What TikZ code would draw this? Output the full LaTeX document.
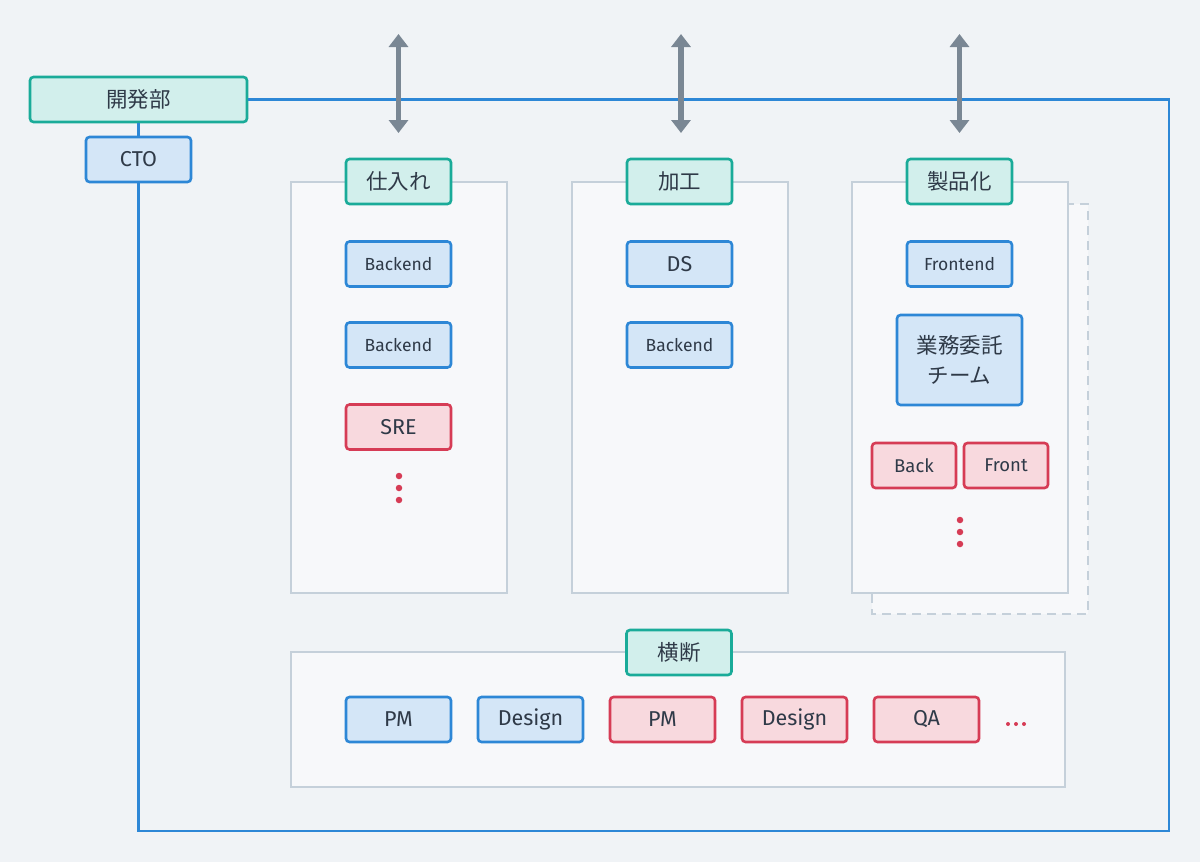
\documentclass[tikz,border=0pt]{standalone}
\usepackage{fontspec}
\setmainfont{Fira Sans}
\newfontfamily\jp{Noto Sans CJK JP}
\usetikzlibrary{arrows.meta}
\definecolor{bg}{HTML}{F0F3F6}
\definecolor{panelfill}{HTML}{F7F8FA}
\definecolor{panelline}{HTML}{C5D0DA}
\definecolor{tealfill}{HTML}{D2EFEC}
\definecolor{tealline}{HTML}{1AAB99}
\definecolor{bluefill}{HTML}{D4E6F7}
\definecolor{blueline}{HTML}{2D87D6}
\definecolor{redfill}{HTML}{F8D9DE}
\definecolor{redline}{HTML}{D63C55}
\definecolor{txt}{HTML}{2F3A48}
\definecolor{arrowgray}{HTML}{7A8794}
\tikzset{
  base/.style={rounded corners=3.5pt, line width=2.6pt, text=txt, inner sep=0pt, anchor=center},
  tealbox/.style={base, draw=tealline, fill=tealfill, font=\jp\fontsize{21.5}{26}\selectfont},
  bluebox/.style={base, draw=blueline, fill=bluefill},
  redbox/.style={base, draw=redline, fill=redfill},
  small/.style={minimum width=105pt, minimum height=45pt},
  panel/.style={draw=panelline, fill=panelfill, line width=2.6pt},
  link/.style={draw=blueline, line width=2.4pt},
  twoway/.style={draw=arrowgray, line width=5.5pt, {Triangle[width=19pt,length=13pt]}-{Triangle[width=19pt,length=13pt]}},
  reddot/.style={fill=redline, draw=none, circle, minimum size=6.5pt, inner sep=0pt},
  f16/.style={font=\fontsize{17.5}{20}\selectfont},
  f17/.style={font=\fontsize{18.5}{22}\selectfont},
  f20/.style={font=\fontsize{21.5}{26}\selectfont},
}
\begin{document}
\begin{tikzpicture}[x=1pt, y=-1pt]
\fill[bg] (0,0) rectangle (1200,862);
\useasboundingbox (0,0) rectangle (1200,862);

% outer department line
\node[tealbox, minimum width=217pt, minimum height=45pt] (dev) at (138.5,99.5) {開発部};
\node[bluebox, small, f20] (cto) at (138.5,159.5) {CTO};
\coordinate (c1) at (1169,99.5);
\coordinate (c2) at (1169,831);
\coordinate (c3) at (138.5,831);
\draw[link] (dev.east) -- (c1) -- (c2) -- (c3) -- (cto.south);
\draw[link] (dev.south) -- (cto.north);

% panels
\draw[panelline, fill=panelfill, line width=2.6pt, dash pattern=on 9pt off 6pt] (872,204) rectangle (1088,614);
\node[panel, minimum width=216pt, minimum height=411pt, inner sep=0pt] (p1) at (399,387.5) {};
\node[panel, minimum width=216pt, minimum height=411pt, inner sep=0pt] (p2) at (680,387.5) {};
\node[panel, minimum width=216pt, minimum height=411pt, inner sep=0pt] (p3) at (960,387.5) {};
\node[panel, minimum width=774pt, minimum height=135pt, inner sep=0pt] (p4) at (678,719.5) {};

% headers
\node[tealbox, small] (h1) at (398.5,181.5) {仕入れ};
\node[tealbox, small] (h2) at (679.5,181.5) {加工};
\node[tealbox, small] (h3) at (959.5,181.5) {製品化};
\node[tealbox, small] (h4) at (679,652.5) {横断};

% arrows
\coordinate (a1t) at (398.5,34); \coordinate (a1b) at (398.5,133);
\coordinate (a2t) at (681,34); \coordinate (a2b) at (681,133);
\coordinate (a3t) at (959.5,34); \coordinate (a3b) at (959.5,133);
\draw[twoway] (a1t) -- (a1b);
\draw[twoway] (a2t) -- (a2b);
\draw[twoway] (a3t) -- (a3b);

% 仕入れ
\node[bluebox, small, f16] (b1) at (398.5,264) {Backend};
\node[bluebox, small, f16] (b2) at (398.5,345) {Backend};
\node[redbox, small, f20] (sre) at (398.5,427) {SRE};
\node[reddot] (d1) at (399,476) {};
\node[reddot] (d2) at (399,488) {};
\node[reddot] (d3) at (399,500) {};

% 加工
\node[bluebox, small, f20] (ds) at (679.5,264) {DS};
\node[bluebox, small, f16] (b3) at (679.5,345) {Backend};

% 製品化
\node[bluebox, small, f16] (fe) at (959.5,264) {Frontend};
\node[bluebox, minimum width=125pt, minimum height=90pt, align=center, font=\jp\fontsize{21.5}{30}\selectfont] (gyomu) at (959.5,360) {業務委託\\チーム};
\node[redbox, minimum width=84pt, minimum height=45pt, f17] (back) at (914,465.5) {Back};
\node[redbox, minimum width=84pt, minimum height=45pt, f17] (front) at (1006,465.5) {Front};
\node[reddot] (d4) at (960,520) {};
\node[reddot] (d5) at (960,532) {};
\node[reddot] (d6) at (960,544) {};

% 横断
\node[bluebox, small, f20] (pm1) at (398.5,719.5) {PM};
\node[bluebox, small, f20] (de1) at (530.5,719.5) {Design};
\node[redbox, small, f20] (pm2) at (662.5,719.5) {PM};
\node[redbox, small, f20] (de2) at (794.5,719.5) {Design};
\node[redbox, small, f20] (qa) at (926.5,719.5) {QA};
\node[reddot, minimum size=4pt] (e1) at (1008,724) {};
\node[reddot, minimum size=4pt] (e2) at (1016,724) {};
\node[reddot, minimum size=4pt] (e3) at (1024,724) {};
\end{tikzpicture}
\end{document}
